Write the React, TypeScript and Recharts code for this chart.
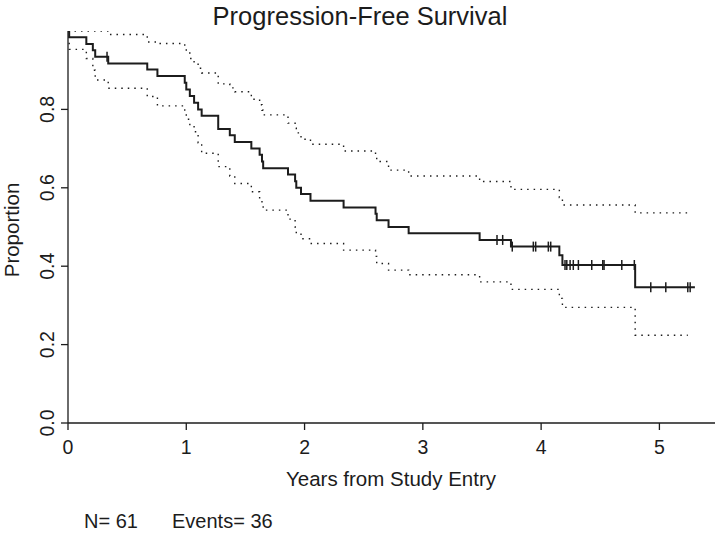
import { ComposedChart, Line, XAxis, YAxis } from 'recharts';

// Kaplan-Meier step times (years) and estimates
const eventTimes = [
  0, 0.01, 0.155, 0.21, 0.23, 0.34, 0.67, 0.756, 0.987, 1.0, 1.03, 1.066, 1.1, 1.13, 1.27, 1.368, 1.41, 1.55,
  1.62, 1.64, 1.65, 1.86, 1.92, 1.93, 1.97, 2.05, 2.33, 2.6, 2.61, 2.71, 2.88, 3.48, 3.745, 4.154, 4.18, 4.795,
];
const survival = [
  1.0, 0.984, 0.967, 0.951, 0.934, 0.917, 0.902, 0.885, 0.868, 0.851, 0.834, 0.817, 0.8, 0.784, 0.75, 0.734,
  0.717, 0.7, 0.684, 0.667, 0.65, 0.634, 0.617, 0.6, 0.584, 0.567, 0.55, 0.534, 0.517, 0.5, 0.484, 0.467, 0.45,
  0.428, 0.403, 0.346,
];
const upperCI = [
  1.0, 1.0, 1.0, 1.0, 1.0, 0.991, 0.972, 0.968, 0.956, 0.944, 0.93, 0.918, 0.905, 0.893, 0.865, 0.855, 0.845,
  0.826, 0.812, 0.798, 0.786, 0.765, 0.752, 0.74, 0.724, 0.711, 0.694, 0.68, 0.667, 0.645, 0.63, 0.616, 0.596,
  0.575, 0.556, 0.536,
];
const lowerCI = [
  1.0, 0.953, 0.93, 0.9, 0.875, 0.854, 0.833, 0.809, 0.79, 0.775, 0.758, 0.743, 0.715, 0.688, 0.654, 0.63, 0.611,
  0.59, 0.57, 0.556, 0.543, 0.52, 0.5, 0.484, 0.47, 0.458, 0.441, 0.425, 0.407, 0.39, 0.378, 0.36, 0.341, 0.318,
  0.295, 0.224,
];
const lastFollowUp = 5.3;
const lastCI = 5.24;

// censored observations
const censorTimes = [
  0.33, 3.627, 3.675, 3.756, 3.934, 3.954, 4.061, 4.081, 4.202, 4.217, 4.245, 4.272, 4.315, 4.428, 4.521, 4.532,
  4.682, 4.788, 4.927, 5.054, 5.24, 5.26,
];
const censorSurv = [
  0.934, 0.467, 0.467, 0.45, 0.45, 0.45, 0.45, 0.45, 0.403, 0.403, 0.403, 0.403, 0.403, 0.403, 0.403, 0.403,
  0.403, 0.403, 0.346, 0.346, 0.346, 0.346,
];

const xTicks = [0, 1, 2, 3, 4, 5];
const yTicks = [0, 0.2, 0.4, 0.6, 0.8];

const kmData = [
  ...eventTimes.map((t, i) => ({ t, v: survival[i] })),
  { t: lastFollowUp, v: survival[survival.length - 1] },
];
const upperData = [
  ...eventTimes.map((t, i) => ({ t, v: upperCI[i] })),
  { t: lastCI, v: upperCI[upperCI.length - 1] },
];
const lowerData = [
  ...eventTimes.map((t, i) => ({ t, v: lowerCI[i] })),
  { t: lastCI, v: lowerCI[lowerCI.length - 1] },
];
const censorData = censorTimes.map((t, i) => ({ t, v: censorSurv[i] }));

const FONT = "'Liberation Sans', Arial, Helvetica, sans-serif";
const INK = '#1c1c1c';

const CensorMark = (props: any) => {
  const { cx, cy, index } = props;
  if (cx == null || cy == null) return null;
  return <line key={`cm-${index}`} x1={cx} x2={cx} y1={cy - 5} y2={cy + 5} stroke={INK} strokeWidth={1.5} />;
};

const YTick = ({ y, payload }: any) => (
  <text
    transform={`translate(54, ${y}) rotate(-90)`}
    textAnchor="middle"
    fontSize={19.5}
    fontFamily={FONT}
    fill={INK}
  >
    {payload.value.toFixed(1)}
  </text>
);

const App = () => {
  return (
    <div style={{ position: 'absolute', left: 0, top: 0, width: 720, height: 539, background: '#fff' }}>
      <ComposedChart width={720} height={539} margin={{ top: 31, right: 5, bottom: 0, left: 0 }}>
        <XAxis
          dataKey="t"
          type="number"
          domain={[0, 5.47]}
          ticks={xTicks}
          allowDataOverflow
          height={116}
          tickSize={7}
          tickMargin={10}
          stroke={INK}
          strokeWidth={1.3}
          tick={{ fontSize: 19.5, fontFamily: FONT, fill: INK }}
        />
        <YAxis
          type="number"
          domain={[0, 1]}
          ticks={yTicks}
          allowDataOverflow
          width={68}
          tickSize={7}
          stroke={INK}
          strokeWidth={1.3}
          tick={<YTick />}
        />
        <Line
          data={upperData}
          dataKey="v"
          type="stepAfter"
          stroke={INK}
          strokeWidth={1.4}
          strokeDasharray="1.5 5"
          dot={false}
          isAnimationActive={false}
        />
        <Line
          data={lowerData}
          dataKey="v"
          type="stepAfter"
          stroke={INK}
          strokeWidth={1.4}
          strokeDasharray="1.5 5"
          dot={false}
          isAnimationActive={false}
        />
        <Line
          data={kmData}
          dataKey="v"
          type="stepAfter"
          stroke={INK}
          strokeWidth={2}
          dot={false}
          isAnimationActive={false}
        />
        <Line
          data={censorData}
          dataKey="v"
          stroke="none"
          dot={<CensorMark />}
          isAnimationActive={false}
        />
      </ComposedChart>
      <svg
        width={720}
        height={539}
        style={{ position: 'absolute', left: 0, top: 0, pointerEvents: 'none' }}
        fontFamily={FONT}
        fill={INK}
      >
        <text x={360} y={25} textAnchor="middle" fontSize={25.5}>
          Progression-Free Survival
        </text>
        <text x={391} y={486} textAnchor="middle" fontSize={20.5}>
          Years from Study Entry
        </text>
        <text transform="translate(19, 230) rotate(-90)" textAnchor="middle" fontSize={20.5}>
          Proportion
        </text>
        <text x={84} y={528} fontSize={20}>
          N= 61
        </text>
        <text x={172} y={528} fontSize={20}>
          Events= 36
        </text>
      </svg>
    </div>
  );
};

export default App;
